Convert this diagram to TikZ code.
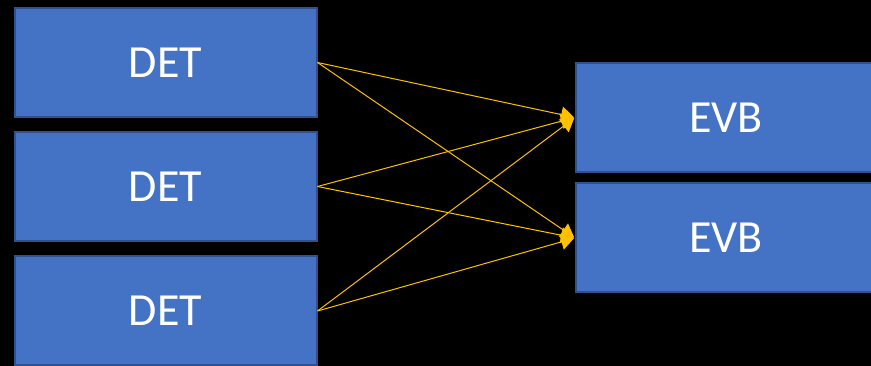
\documentclass[tikz,border=0pt]{standalone}
\usepackage{fontspec}
\setmainfont{Carlito}
\usetikzlibrary{arrows.meta}
\definecolor{boxfill}{HTML}{4472C4}
\definecolor{boxline}{HTML}{2F528F}
\definecolor{wire}{HTML}{FFC000}
\begin{document}
\begin{tikzpicture}[x=1pt,y=-1pt,
  block/.style={rectangle, draw=boxline, line width=2pt, fill=boxfill,
    text=white, font=\fontsize{46}{50}\selectfont, inner sep=0pt},
  link/.style={draw=wire, line width=1pt,
    -{Triangle[length=13pt,width=16pt]}, shorten >=1pt}]
\fill[black] (0,0) rectangle (871,366);
\useasboundingbox (0,0) rectangle (871,366);
% detector boxes
\node[block, minimum width=302pt, minimum height=109pt] (d1) at (165.5,62.5) {DET};
\node[block, minimum width=302pt, minimum height=109pt] (d2) at (165.5,186.5) {DET};
\node[block, minimum width=302pt, minimum height=109pt] (d3) at (165.5,311) {DET};
% evaluation boards (run past the right edge)
\node[block, minimum width=310pt, minimum height=109pt] (e1) at (731,117.5) {};
\node[block, minimum width=310pt, minimum height=109pt] (e2) at (731,238) {};
\node[text=white, font=\fontsize{46}{50}\selectfont] (t1) at (726,117.5) {EVB};
\node[text=white, font=\fontsize{46}{50}\selectfont] (t2) at (726,238) {EVB};
% every detector feeds both boards
\foreach \d in {d1,d2,d3}{
  \draw[link] (\d.east) -- (e1.west);
  \draw[link] (\d.east) -- (e2.west);
}
\end{tikzpicture}
\end{document}
